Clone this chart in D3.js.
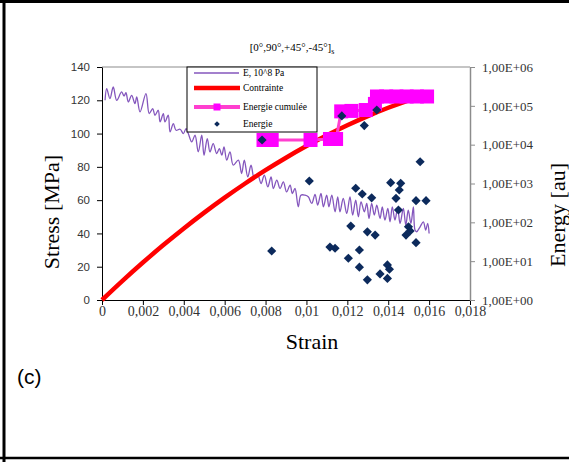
<!DOCTYPE html>
<html>
<head>
<meta charset="utf-8">
<script src="https://cdn.jsdelivr.net/npm/d3@7"></script>
<style>
  body { margin: 0; background: #fff; }
  svg { display: block; }
</style>
</head>
<body>
<script>
// ---- data ----
const xTicks = [0, 0.002, 0.004, 0.006, 0.008, 0.01, 0.012, 0.014, 0.016, 0.018];
const xTickLabels = ['0', '0,002', '0,004', '0,006', '0,008', '0,01', '0,012', '0,014', '0,016', '0,018'];
const stressTicks = [0, 20, 40, 60, 80, 100, 120, 140];
const energyTicks = [1, 10, 100, 1000, 1e4, 1e5, 1e6];
const energyTickLabels = ['1,00E+00', '1,00E+01', '1,00E+02', '1,00E+03', '1,00E+04', '1,00E+05', '1,00E+06'];
const legendLabels = ['E, 10^8 Pa', 'Contrainte', 'Energie cumulée', 'Energie'];

// [strain, stress MPa]
const contrainte = [
  [0, 0], [0.001, 11.5], [0.002, 22.5], [0.003, 33], [0.004, 43], [0.005, 52.5],
  [0.006, 61.5], [0.007, 70], [0.008, 78], [0.009, 85.5], [0.010, 92.5], [0.011, 99],
  [0.012, 105], [0.013, 110.5], [0.014, 115.5], [0.015, 120], [0.016, 124]
];

// [strain, E in 10^8 Pa]
const moduleE = [
  [0.00015, 120], [0.00023, 127], [0.00039, 121], [0.00055, 128], [0.00072, 120], [0.00096, 125],
  [0.00108, 122.6], [0.00117, 124.6], [0.00129, 119], [0.00145, 123], [0.00161, 118], [0.00170, 122],
  [0.00186, 113], [0.00215, 124], [0.00231, 112], [0.00248, 115], [0.00259, 111], [0.00275, 114],
  [0.00284, 107], [0.00300, 112], [0.00308, 107], [0.00324, 111], [0.00333, 101], [0.00349, 106],
  [0.00362, 102], [0.00382, 102.6], [0.00398, 100], [0.00411, 103], [0.00422, 100], [0.00439, 95],
  [0.00455, 99], [0.00471, 89], [0.00488, 99], [0.00499, 87], [0.00515, 97], [0.00528, 89],
  [0.00544, 94], [0.00561, 88], [0.00574, 91], [0.00586, 87], [0.00597, 92], [0.00610, 84],
  [0.00626, 89], [0.00642, 81], [0.00667, 84], [0.00683, 76], [0.00696, 84], [0.00713, 74],
  [0.00729, 81], [0.00745, 73], [0.00762, 75], [0.00778, 70], [0.00794, 75], [0.00811, 68],
  [0.00827, 74], [0.00838, 67], [0.00855, 72], [0.00871, 67], [0.00887, 71], [0.00903, 65],
  [0.00920, 69], [0.00931, 64], [0.00944, 67], [0.00960, 56], [0.00973, 63], [0.00993, 63],
  [0.01009, 62], [0.01026, 58], [0.01042, 63.5], [0.01055, 57], [0.01071, 64], [0.01083, 56],
  [0.01099, 63], [0.01110, 56], [0.01124, 63], [0.01140, 53], [0.01153, 62], [0.01164, 53],
  [0.01180, 61], [0.01197, 52], [0.01213, 62], [0.01226, 51], [0.01241, 60], [0.01254, 50],
  [0.01267, 59], [0.01283, 53], [0.01295, 58], [0.01306, 49], [0.01319, 58], [0.01332, 51],
  [0.01344, 57], [0.01360, 49], [0.01371, 56], [0.01384, 48], [0.01398, 55], [0.01409, 47],
  [0.01420, 56], [0.01433, 48], [0.01446, 55], [0.01458, 46], [0.01474, 55], [0.01486, 45],
  [0.01498, 54], [0.01511, 46], [0.01523, 56], [0.01531, 42], [0.01539, 41], [0.01556, 44],
  [0.01572, 47], [0.01583, 42], [0.01593, 46], [0.01600, 40]
];

// [strain, cumulated energy au]
const energieCumulee = [
  [0.0079, 1.32e4], [0.0083, 1.32e4], [0.0102, 1.32e4], [0.01115, 1.4e4], [0.01145, 1.4e4],
  [0.0117, 7.2e4], [0.0122, 7.4e4], [0.0129, 7.8e4], [0.01335, 1.12e5], [0.01345, 1.74e5],
  [0.0139, 1.74e5], [0.0144, 1.74e5], [0.0149, 1.74e5], [0.0154, 1.74e5], [0.0159, 1.74e5]
];

// [strain, energy au]
const energie = [
  [0.00783, 1.32e4], [0.01014, 1160], [0.01173, 5.5e4], [0.01283, 3.1e4], [0.01344, 7.8e4],
  [0.01556, 3640], [0.01241, 753], [0.01273, 537], [0.01319, 427], [0.01412, 1050],
  [0.01461, 1010], [0.01454, 680], [0.01438, 415], [0.01450, 208], [0.01536, 361],
  [0.01585, 361], [0.01217, 80], [0.01298, 57], [0.01336, 47], [0.01499, 77],
  [0.01487, 47], [0.01507, 60], [0.01536, 30], [0.01140, 21.5], [0.01115, 23],
  [0.01259, 19.4], [0.01205, 11.9], [0.01259, 7], [0.01298, 3.3], [0.01360, 4.7],
  [0.01396, 8], [0.01406, 6.2], [0.01396, 3.6], [0.00830, 18.3]
];

// ---- layout ----
const size = {w: 569, h: 462};
const plot = {l: 102, r: 470, t: 67, b: 300};
const serif = '"Liberation Serif", "Times New Roman", serif';
const sans = '"Liberation Sans", Arial, sans-serif';

const svg = d3.select('body').append('svg')
    .attr('width', size.w)
    .attr('height', size.h);

svg.append('rect').attr('width', size.w).attr('height', size.h).attr('fill', '#fff');

// page frame
svg.append('line').attr('x1', 0).attr('x2', size.w).attr('y1', 1.5).attr('y2', 1.5)
    .attr('stroke', '#000').attr('stroke-width', 3);
svg.append('line').attr('x1', 4).attr('x2', 4).attr('y1', 0).attr('y2', size.h)
    .attr('stroke', '#000').attr('stroke-width', 3);
svg.append('line').attr('x1', 0).attr('x2', size.w).attr('y1', 458).attr('y2', 458)
    .attr('stroke', '#000').attr('stroke-width', 2.5);

// scales
const x = d3.scaleLinear().domain([0, 0.018]).range([plot.l, plot.r]);
const y = d3.scaleLinear().domain([0, 140]).range([plot.b, plot.t]);
const yLog = d3.scaleLog().domain([1, 1e6]).range([plot.b, plot.t]);

// plot frame (top gray)
svg.append('line').attr('x1', plot.l).attr('x2', plot.r).attr('y1', plot.t).attr('y2', plot.t)
    .attr('stroke', '#8c8c8c').attr('stroke-width', 1.2);

// axes
const xAxis = svg.append('g')
    .attr('transform', `translate(0,${plot.b})`)
    .call(d3.axisBottom(x).tickValues(xTicks).tickSize(5).tickSizeOuter(0)
        .tickFormat((d, i) => xTickLabels[i]));
xAxis.selectAll('text').attr('font-family', serif).attr('font-size', 14).attr('dy', '0.6em').attr('fill', '#333');

const yAxis = svg.append('g')
    .attr('transform', `translate(${plot.l},0)`)
    .call(d3.axisLeft(y).tickValues(stressTicks).tickSize(5).tickSizeOuter(0));
yAxis.selectAll('text').attr('font-family', sans).attr('font-size', 11.5).attr('fill', '#333').attr('x', -12);

const rAxis = svg.append('g')
    .attr('transform', `translate(${plot.r},0)`)
    .call(d3.axisRight(yLog).tickValues(energyTicks).tickSize(5).tickSizeOuter(0)
        .tickFormat((d, i) => energyTickLabels[i]));
rAxis.select('.domain').attr('stroke', '#8c8c8c').attr('stroke-width', 1.5);
rAxis.selectAll('.tick line').attr('stroke', '#8c8c8c');
rAxis.selectAll('text').attr('font-family', serif).attr('font-size', 13).attr('fill', '#333').attr('x', 12);

[xAxis, yAxis].forEach(a => a.selectAll('.domain, .tick line').attr('stroke', '#000'));
[xAxis, yAxis, rAxis].forEach(a => a.attr('font-size', null));

// series
const eLine = d3.line().curve(d3.curveCatmullRom).x(d => x(d[0])).y(d => y(d[1]));
const logLine = d3.line().x(d => x(d[0])).y(d => yLog(d[1]));

svg.append('path').datum(moduleE)
    .attr('d', eLine).attr('fill', 'none')
    .attr('stroke', '#8456bd').attr('stroke-width', 1.3);

svg.append('path').datum(contrainte)
    .attr('d', d3.line().curve(d3.curveMonotoneX).x(d => x(d[0])).y(d => y(d[1])))
    .attr('fill', 'none').attr('stroke', '#ff0000').attr('stroke-width', 4.5);

svg.append('path').datum(energieCumulee)
    .attr('d', logLine).attr('fill', 'none')
    .attr('stroke', '#ff3fcf').attr('stroke-width', 3);

svg.append('g').selectAll('rect')
    .data(energieCumulee)
    .join('rect')
    .attr('x', d => x(d[0]) - 7)
    .attr('y', d => yLog(d[1]) - 7)
    .attr('width', 14).attr('height', 14)
    .attr('fill', '#ff00ff');

const diamond = d3.symbol(d3.symbolSquare, 42);
svg.append('g').selectAll('path')
    .data(energie)
    .join('path')
    .attr('d', diamond)
    .attr('transform', d => `translate(${x(d[0])},${yLog(d[1])}) rotate(45)`)
    .attr('fill', '#0c2a5c');

// legend
const lg = svg.append('g').attr('transform', 'translate(187,67)');
lg.append('rect').attr('width', 130).attr('height', 65)
    .attr('fill', '#fff').attr('stroke', '#000').attr('stroke-width', 1);
const rowsY = [6, 21, 40, 57];
lg.append('line').attr('x1', 7).attr('x2', 52).attr('y1', rowsY[0]).attr('y2', rowsY[0])
    .attr('stroke', '#8456bd').attr('stroke-width', 1.3);
lg.append('line').attr('x1', 7).attr('x2', 53).attr('y1', rowsY[1]).attr('y2', rowsY[1])
    .attr('stroke', '#ff0000').attr('stroke-width', 4.5);
lg.append('line').attr('x1', 7).attr('x2', 53).attr('y1', rowsY[2]).attr('y2', rowsY[2])
    .attr('stroke', '#ff3fcf').attr('stroke-width', 4);
lg.append('rect').attr('x', 26.5).attr('y', rowsY[2] - 3.5).attr('width', 7).attr('height', 7)
    .attr('fill', '#ff00ff');
lg.append('path').attr('d', d3.symbol(d3.symbolSquare, 16))
    .attr('transform', `translate(30,${rowsY[3]}) rotate(45)`).attr('fill', '#0c2a5c');
lg.selectAll('text.lab')
    .data(legendLabels)
    .join('text')
    .attr('x', 56)
    .attr('y', (d, i) => rowsY[i] + 3)
    .attr('font-family', serif).attr('font-size', 9.5)
    .text(d => d);

// title
const title = svg.append('text')
    .attr('x', 292).attr('y', 51)
    .attr('text-anchor', 'middle')
    .attr('font-family', serif).attr('font-size', 11);
title.append('tspan').text('[0°,90°,+45°,-45°]');
title.append('tspan').attr('dy', 3).attr('font-size', 8).text('s');

// axis titles
svg.append('text')
    .attr('transform', 'translate(59,212) rotate(-90)')
    .attr('text-anchor', 'middle')
    .attr('font-family', serif).attr('font-size', 22)
    .text('Stress [MPa]');

svg.append('text')
    .attr('transform', 'translate(565,215) rotate(-90)')
    .attr('text-anchor', 'middle')
    .attr('font-family', serif).attr('font-size', 22)
    .text('Energy [au]');

svg.append('text')
    .attr('x', 312).attr('y', 349)
    .attr('text-anchor', 'middle')
    .attr('font-family', serif).attr('font-size', 22)
    .text('Strain');

svg.append('text')
    .attr('x', 17).attr('y', 384)
    .attr('font-family', sans).attr('font-size', 21)
    .text('(c)');
</script>
</body>
</html>
